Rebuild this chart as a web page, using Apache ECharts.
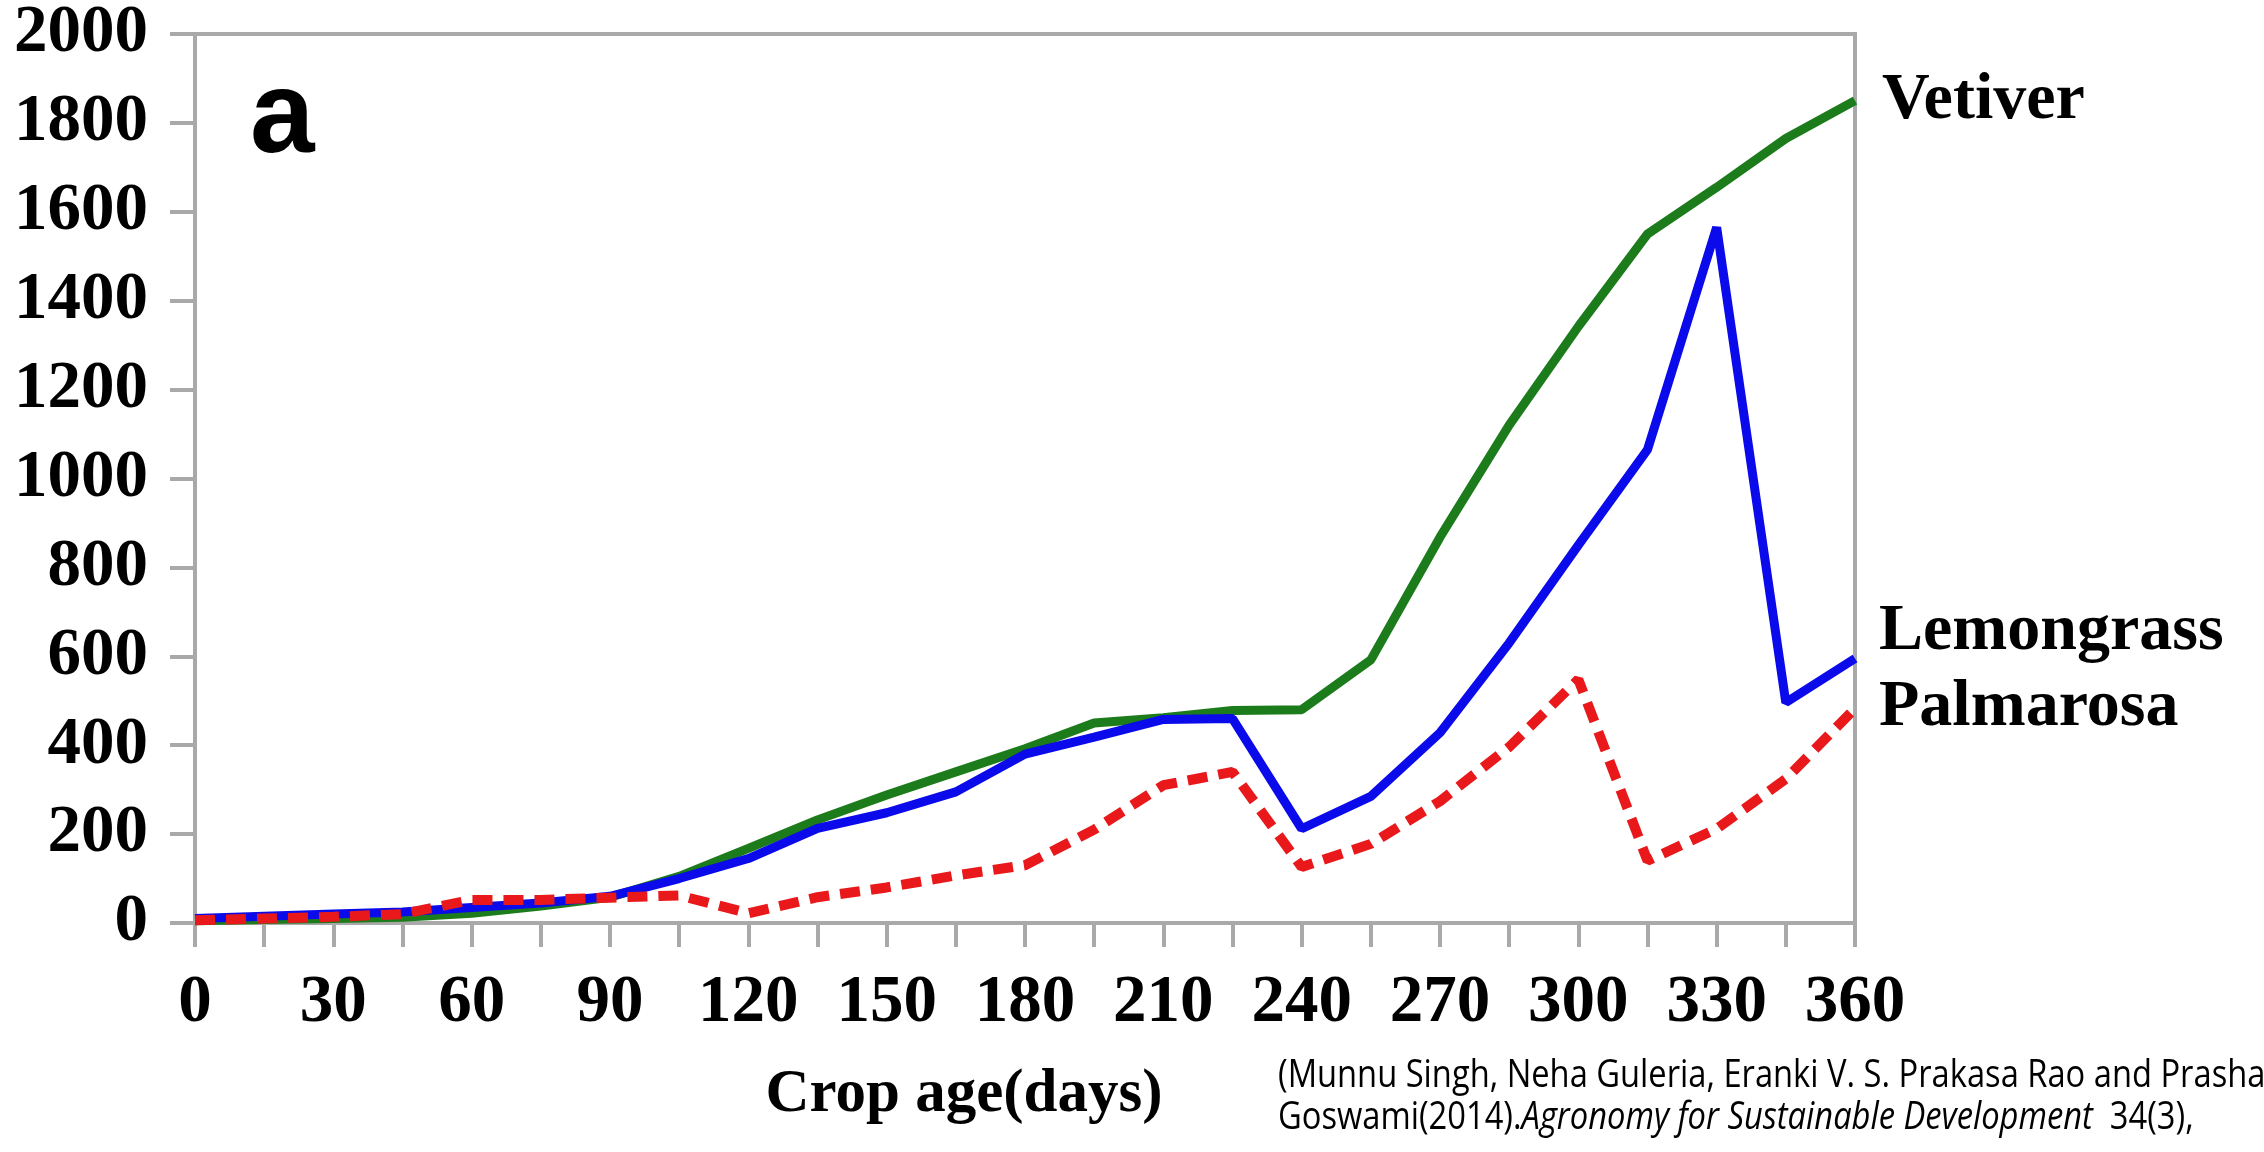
<!DOCTYPE html>
<html>
<head>
    <meta charset="utf-8">
    <title>Crop age chart</title>
    <script src="https://cdn.jsdelivr.net/npm/echarts@6/dist/echarts.min.js"></script>
    <style>
        html, body { margin: 0; padding: 0; background: #fff; }
    </style>
</head>
<body>
    <div id="main" style="width: 2264px;height:1152px;"></div>
    <script type="text/javascript">
        // crop age (days), one point every 15 days
        var days = [0, 15, 30, 45, 60, 75, 90, 105, 120, 135, 150, 165, 180,
                    195, 210, 225, 240, 255, 270, 285, 300, 315, 330, 345, 360];
        var vetiver = [5, 8, 10, 13, 22, 38, 58, 105, 168, 232, 288, 340, 392,
                       450, 462, 478, 480, 592, 868, 1120, 1342, 1550, 1655, 1765, 1850];
        var lemongrass = [10, 15, 20, 25, 35, 45, 60, 100, 145, 213, 248, 295, 380,
                          418, 458, 460, 212, 285, 428, 630, 850, 1065, 1565, 496, 595];
        var palmarosa = [6, 10, 14, 20, 52, 52, 57, 62, 22, 58, 80, 107, 130,
                         210, 310, 340, 126, 178, 274, 396, 548, 140, 212, 324, 483];
        var xLabelDays = [0, 30, 60, 90, 120, 150, 180, 210, 240, 270, 300, 330, 360];
        var yTicks = [0, 200, 400, 600, 800, 1000, 1200, 1400, 1600, 1800, 2000];

        var axisGray = '#a9a9a9';
        var serif = "'Liberation Serif', 'Times New Roman', serif";
        var citeFont = "'Open Sans', 'Noto Sans', sans-serif";

        function pairs(ys) {
            var out = [];
            for (var i = 0; i < days.length; i++) {
                out.push([days[i], ys[i]]);
            }
            return out;
        }

        function endLabel(dist, dy) {
            return {
                show: true,
                formatter: '{a}',
                distance: dist,
                offset: [0, dy],
                color: '#000',
                fontFamily: serif,
                fontWeight: 'bold',
                fontSize: 66
            };
        }

        var myChart = echarts.init(document.getElementById('main'));

        var option = {
            animation: false,
            backgroundColor: '#fff',
            grid: {
                left: 195,
                right: 409,
                top: 34,
                bottom: 229,
                show: true,
                borderColor: axisGray,
                borderWidth: 4,
                backgroundColor: 'transparent'
            },
            xAxis: {
                type: 'value',
                min: 0,
                max: 360,
                interval: 15,
                axisLine: { show: true, onZero: false, lineStyle: { color: axisGray, width: 4 } },
                axisTick: { show: true, length: 24, lineStyle: { color: axisGray, width: 4 } },
                splitLine: { show: false },
                axisLabel: {
                    margin: 47,
                    color: '#000',
                    fontFamily: serif,
                    fontWeight: 'bold',
                    fontSize: 67,
                    formatter: function (v) {
                        return xLabelDays.indexOf(v) >= 0 ? String(v) : '';
                    }
                }
            },
            yAxis: {
                type: 'value',
                min: yTicks[0],
                max: yTicks[yTicks.length - 1],
                interval: 200,
                axisLine: { show: true, lineStyle: { color: axisGray, width: 4 } },
                axisTick: { show: true, length: 25, lineStyle: { color: axisGray, width: 4 } },
                splitLine: { show: false },
                axisLabel: {
                    margin: 47,
                    color: '#000',
                    fontFamily: serif,
                    fontWeight: 'bold',
                    fontSize: 67,
                    formatter: function (v) { return String(v); }
                }
            },
            series: [
                {
                    name: 'Vetiver',
                    type: 'line',
                    symbol: 'none',
                    data: pairs(vetiver),
                    lineStyle: { color: '#1c7c1c', width: 9 },
                    endLabel: endLabel(27, 0)
                },
                {
                    name: 'Lemongrass',
                    type: 'line',
                    symbol: 'none',
                    data: pairs(lemongrass),
                    lineStyle: { color: '#0a0aeb', width: 9 },
                    endLabel: endLabel(24, -27)
                },
                {
                    name: 'Palmarosa',
                    type: 'line',
                    symbol: 'none',
                    data: pairs(palmarosa),
                    lineStyle: { color: '#e8181b', width: 10, type: [20, 11] },
                    endLabel: endLabel(24, 0)
                }
            ],
            graphic: [
                {
                    type: 'text',
                    left: 250,
                    top: 62,
                    style: {
                        text: 'a',
                        fill: '#000',
                        font: "bold 116px 'Liberation Sans', Arial, sans-serif"
                    }
                },
                {
                    type: 'text',
                    x: 964,
                    y: 1095,
                    style: {
                        text: 'Crop age(days)',
                        fill: '#000',
                        align: 'center',
                        verticalAlign: 'middle',
                        font: "bold 61px 'Liberation Serif', 'Times New Roman', serif"
                    }
                },
                {
                    type: 'text',
                    x: 1278,
                    y: 1076,
                    scaleX: 0.86,
                    style: {
                        text: '(Munnu Singh, Neha Guleria, Eranki V. S. Prakasa Rao and Prashant',
                        fill: '#000',
                        verticalAlign: 'middle',
                        font: "38px " + citeFont
                    }
                },
                {
                    type: 'text',
                    x: 1278,
                    y: 1118,
                    scaleX: 0.86,
                    style: {
                        text: '{n|Goswami(2014).}{i|Agronomy for Sustainable Development}{n|  34(3),}',
                        fill: '#000',
                        verticalAlign: 'middle',
                        rich: {
                            n: { fontFamily: citeFont, fontSize: 38, color: '#000' },
                            i: { fontFamily: citeFont, fontSize: 38, fontStyle: 'italic', color: '#000' }
                        }
                    }
                }
            ]
        };

        myChart.setOption(option);
    </script>
</body>
</html>
